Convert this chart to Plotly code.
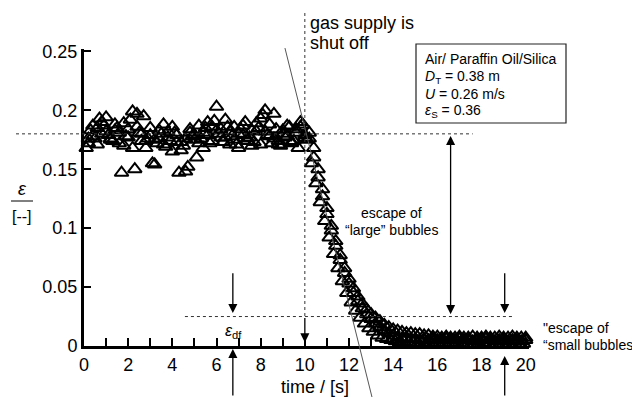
import plotly.graph_objects as go

# ---------------- data ----------------
time_a = [0.2, 0.4, 0.6, 0.8, 1.0, 1.2, 1.4, 1.6, 1.8, 2.0,
          2.2, 2.4, 2.6, 2.8, 3.0, 3.2, 3.4, 3.6, 3.8, 4.0,
          4.2, 4.4, 4.6, 4.8, 5.0, 5.2, 5.4, 5.6, 5.8, 6.0,
          6.2, 6.4, 6.6, 6.8, 7.0, 7.2, 7.4, 7.6, 7.8, 8.0,
          8.2, 8.4, 8.6, 8.8, 9.0, 9.2, 9.4, 9.6, 9.8, 10.0,
          10.2, 10.4, 10.6, 10.8, 11.0, 11.2, 11.4, 11.6, 11.8, 12.0,
          12.2, 12.4, 12.6, 12.8, 13.0, 13.2, 13.4, 13.6, 13.8, 14.0,
          14.2, 14.4, 14.6, 14.8, 15.0, 15.2, 15.4, 15.6, 15.8, 16.0,
          16.2, 16.4, 16.6, 16.8, 17.0, 17.2, 17.4, 17.6, 17.8, 18.0,
          18.2, 18.4, 18.6, 18.8, 19.0, 19.2, 19.4, 19.6, 19.8, 20.0]

time_b = [0.1, 0.3, 0.5, 0.7, 0.9, 1.1, 1.3, 1.5, 1.7, 1.9,
          2.1, 2.3, 2.5, 2.7, 2.9, 3.1, 3.3, 3.5, 3.7, 3.9,
          4.1, 4.3, 4.5, 4.7, 4.9, 5.1, 5.3, 5.5, 5.7, 5.9,
          6.1, 6.3, 6.5, 6.7, 6.9, 7.1, 7.3, 7.5, 7.7, 7.9,
          8.1, 8.3, 8.5, 8.7, 8.9, 9.1, 9.3, 9.5, 9.7, 9.9,
          10.1, 10.3, 10.5, 10.7, 10.9, 11.1, 11.3, 11.5, 11.7, 11.9,
          12.1, 12.3, 12.5, 12.7, 12.9, 13.1, 13.3, 13.5, 13.7, 13.9,
          14.1, 14.3, 14.5, 14.7, 14.9, 15.1, 15.3, 15.5, 15.7, 15.9,
          16.1, 16.3, 16.5, 16.7, 16.9, 17.1, 17.3, 17.5, 17.7, 17.9,
          18.1, 18.3, 18.5, 18.7, 18.9, 19.1, 19.3, 19.5, 19.7, 19.9]

holdup_run1 = [0.172, 0.178, 0.185, 0.190, 0.182, 0.176, 0.188, 0.181, 0.170, 0.184,
               0.199, 0.186, 0.174, 0.168, 0.179, 0.175, 0.183, 0.171, 0.177, 0.186,
               0.173, 0.166, 0.176, 0.184, 0.179, 0.172, 0.181, 0.190, 0.186, 0.203,
               0.184, 0.177, 0.182, 0.175, 0.180, 0.187, 0.174, 0.170, 0.182, 0.193,
               0.200, 0.188, 0.176, 0.171, 0.183, 0.178, 0.172, 0.181, 0.186, 0.179,
               0.176, 0.160, 0.143, 0.127, 0.112, 0.098, 0.085, 0.073, 0.062, 0.053,
               0.045, 0.038, 0.032, 0.027, 0.023, 0.019, 0.016, 0.013, 0.011, 0.009,
               0.007, 0.006, 0.007, 0.006, 0.006, 0.005, 0.006, 0.005, 0.006, 0.005,
               0.005, 0.006, 0.005, 0.005, 0.006, 0.005, 0.005, 0.004, 0.005, 0.005,
               0.006, 0.005, 0.004, 0.005, 0.005, 0.004, 0.005, 0.005, 0.004, 0.005]

holdup_run2 = [0.168, 0.183, 0.176, 0.193, 0.187, 0.179, 0.174, 0.185, 0.147, 0.178,
               0.192, 0.150, 0.181, 0.195, 0.176, 0.155, 0.172, 0.180, 0.169, 0.174,
               0.181, 0.147, 0.170, 0.152, 0.178, 0.160, 0.176, 0.185, 0.172, 0.191,
               0.180, 0.173, 0.186, 0.178, 0.171, 0.184, 0.190, 0.177, 0.173, 0.185,
               0.196, 0.179, 0.172, 0.184, 0.170, 0.177, 0.186, 0.174, 0.168, 0.188,
               0.175, 0.155, 0.138, 0.122, 0.106, 0.092, 0.078, 0.066, 0.055, 0.045,
               0.037, 0.030, 0.024, 0.019, 0.015, 0.012, 0.009, 0.007, 0.006, 0.005,
               0.004, 0.003, 0.004, 0.003, 0.003, 0.002, 0.003, 0.002, 0.003, 0.002,
               0.002, 0.003, 0.002, 0.002, 0.003, 0.002, 0.002, 0.001, 0.002, 0.002,
               0.003, 0.002, 0.001, 0.002, 0.002, 0.001, 0.002, 0.002, 0.001, 0.002]

holdup_run3 = [0.176, 0.187, 0.171, 0.180, 0.194, 0.175, 0.183, 0.172, 0.189, 0.177,
               0.168, 0.197, 0.180, 0.174, 0.185, 0.154, 0.176, 0.188, 0.182, 0.165,
               0.179, 0.173, 0.148, 0.181, 0.175, 0.187, 0.168, 0.179, 0.174, 0.183,
               0.177, 0.192, 0.171, 0.186, 0.168, 0.179, 0.176, 0.183, 0.189, 0.171,
               0.182, 0.178, 0.197, 0.174, 0.180, 0.187, 0.173, 0.184, 0.190, 0.177,
               0.181, 0.168, 0.150, 0.133, 0.117, 0.102, 0.089, 0.077, 0.066, 0.057,
               0.049, 0.042, 0.036, 0.031, 0.027, 0.024, 0.021, 0.018, 0.016, 0.014,
               0.013, 0.012, 0.011, 0.011, 0.010, 0.010, 0.009, 0.009, 0.008, 0.008,
               0.007, 0.008, 0.007, 0.007, 0.008, 0.007, 0.007, 0.008, 0.007, 0.007,
               0.008, 0.007, 0.007, 0.008, 0.007, 0.007, 0.008, 0.007, 0.007, 0.007]

runs = [(time_a, holdup_run1), (time_b, holdup_run2), (time_a, holdup_run3)]

# reference levels / guide values (data units)
eps_plateau = 0.18      # gas holdup before shut-off
eps_df = 0.025          # holdup of "small" bubbles
t_shutoff = 10.0
t_arrow_left = 6.74
t_arrow_mid = 16.6
t_arrow_right = 19.05
tangent = [(9.10, 0.2528), (13.04, -0.0433)]

# ---------------- layout geometry ----------------
W, H = 632, 397
ML, MR, MT, MB = 84, 103, 49, 51
X_RANGE = [0, 20.15]
Y_RANGE = [0, 0.252]
PW, PH = W - ML - MR, H - MT - MB
FONT = "Liberation Sans, Arial, Helvetica, sans-serif"


def xp(t):  # data -> paper
    return (t - X_RANGE[0]) / (X_RANGE[1] - X_RANGE[0])


def yp(e):
    return (e - Y_RANGE[0]) / (Y_RANGE[1] - Y_RANGE[0])


def px_x(p):  # pixel -> paper
    return (p - ML) / PW


def px_y(p):
    return (H - MB - p) / PH


fig = go.Figure()
for tt, vv in runs:
    fig.add_trace(go.Scatter(
        x=tt, y=vv, mode="markers", cliponaxis=False, showlegend=False,
        marker=dict(symbol="triangle-up-open", size=12, color="black",
                    line=dict(width=2, color="black")),
    ))

shapes = []
dot = dict(color="#333", width=1, dash="dot")
# upper plateau line (extends left out of the plot)
shapes.append(dict(type="line", xref="paper", yref="paper",
                   x0=px_x(16), x1=xp(17.6), y0=yp(eps_plateau), y1=yp(eps_plateau), line=dot))
# lower line eps_df
shapes.append(dict(type="line", xref="x", yref="y",
                   x0=4.57, x1=19.4, y0=eps_df, y1=eps_df, line=dot))
# vertical shut-off line
shapes.append(dict(type="line", xref="paper", yref="paper",
                   x0=xp(t_shutoff), x1=xp(t_shutoff), y0=px_y(13), y1=yp(eps_df), line=dot))
# tangent line
shapes.append(dict(type="line", xref="paper", yref="paper",
                   x0=xp(tangent[0][0]), y0=yp(tangent[0][1]),
                   x1=xp(tangent[1][0]), y1=yp(tangent[1][1]),
                   line=dict(color="#555", width=1)))
# info box
shapes.append(dict(type="rect", xref="paper", yref="paper",
                   x0=px_x(416), x1=px_x(566), y0=px_y(44), y1=px_y(123),
                   line=dict(color="#222", width=1.2), fillcolor="white"))
# y-label fraction bar
shapes.append(dict(type="line", xref="paper", yref="paper",
                   x0=px_x(11), x1=px_x(33), y0=px_y(201), y1=px_y(201),
                   line=dict(color="black", width=1)))

ann = []


def text(xpix, ypix, s, size=14, anchor="left"):
    ann.append(dict(xref="paper", yref="paper", x=px_x(xpix), y=px_y(ypix), text=s,
                    showarrow=False, xanchor=anchor, yanchor="middle",
                    font=dict(family=FONT, size=size, color="black")))


text(308, 23, "gas supply is", 18)
text(308, 43, "shut off", 18)
text(423, 59, "Air/ Paraffin Oil/Silica", 14)
text(423, 77, "<i>D</i><sub>T</sub> = 0.38 m", 14)
text(423, 94, "<i>U</i> = 0.26 m/s", 14)
text(423, 111, "<i>ε</i><sub>S</sub> = 0.36", 14)
text(391, 213, "escape of", 14, "center")
text(391, 230, "“large” bubbles", 14, "center")
text(541, 328, "\"escape of", 14)
text(541, 345, "“small bubbles", 14)
text(233, 331, "<i>ε</i><sub>df</sub>", 16, "center")
text(22, 189, "<i>ε</i>", 18, "center")
text(22, 216, "[--]", 16, "center")
text(315, 387, "time / [s]", 18, "center")

arrow_style = dict(showarrow=True, arrowhead=2, arrowsize=1.4, arrowwidth=1.3,
                   arrowcolor="black", text="")
# down arrows onto eps_df line
for tx in (t_arrow_left, t_arrow_right):
    ann.append(dict(xref="x", yref="y", axref="x", ayref="y", x=tx, y=0.028,
                    ax=tx, ay=0.063, **arrow_style))
# up arrows from below axis
ann.append(dict(xref="x", yref="paper", x=t_arrow_left, y=px_y(349), ax=0, ay=48, **arrow_style))
ann.append(dict(xref="x", yref="paper", x=t_arrow_right, y=px_y(356), ax=0, ay=41, **arrow_style))
# double arrow between plateau and eps_df
ann.append(dict(xref="x", yref="y", axref="x", ayref="y", x=t_arrow_mid, y=0.027,
                ax=t_arrow_mid, ay=0.1795, arrowside="end+start", startarrowhead=2,
                startarrowsize=1.4, **arrow_style))
# arrow at shut-off time
ann.append(dict(xref="x", yref="y", axref="x", ayref="y", x=t_shutoff, y=0.003,
                ax=t_shutoff, ay=eps_df, **arrow_style))

fig.update_layout(
    width=W, height=H, margin=dict(l=ML, r=MR, t=MT, b=MB, pad=0),
    paper_bgcolor="white", plot_bgcolor="white",
    font=dict(family=FONT, size=18, color="black"),
    shapes=shapes, annotations=ann,
    xaxis=dict(range=X_RANGE, showgrid=False, zeroline=False, showline=True,
               linecolor="black", linewidth=3, ticks="inside", ticklen=8,
               tickwidth=2, tickcolor="black", dtick=2, tick0=0,
               minor=dict(ticks="inside", ticklen=8, tickwidth=2, tickcolor="black", dtick=1),
               tickfont=dict(size=18, family=FONT)),
    yaxis=dict(range=Y_RANGE, showgrid=False, zeroline=False, showline=True,
               linecolor="black", linewidth=3, ticks="inside", ticklen=7,
               tickwidth=2, tickcolor="black", dtick=0.05, tick0=0,
               tickfont=dict(size=18, family=FONT)),
)

fig.write_html("out.html")
